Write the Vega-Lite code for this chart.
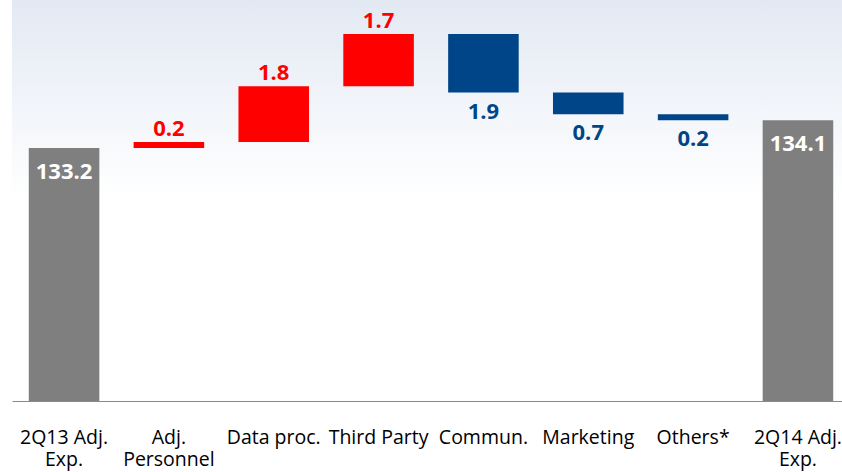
{
  "$schema": "https://vega.github.io/schema/vega-lite/v6.json",
  "width": 830,
  "height": 401,
  "autosize": {"type": "none"},
  "padding": {"left": 12, "top": 0, "right": 0, "bottom": 71},
  "background": "white",
  "view": {
    "stroke": null,
    "fill": {
      "gradient": "linear",
      "x1": 0, "y1": 0, "x2": 0, "y2": 1,
      "stops": [
        {"offset": 0, "color": "#e3e9f3"},
        {"offset": 0.2, "color": "#eef2f8"},
        {"offset": 0.5, "color": "#ffffff"},
        {"offset": 1, "color": "#ffffff"}
      ]
    }
  },
  "data": {
    "values": [
      {"label": "2Q13 Adj.|Exp.", "start": 125, "end": 133.2, "text": "133.2", "kind": "total"},
      {"label": "Adj.|Personnel", "start": 133.2, "end": 133.4, "text": "0.2", "kind": "increase"},
      {"label": "Data proc.", "start": 133.4, "end": 135.2, "text": "1.8", "kind": "increase"},
      {"label": "Third Party", "start": 135.2, "end": 136.9, "text": "1.7", "kind": "increase"},
      {"label": "Commun.", "start": 136.9, "end": 135.0, "text": "1.9", "kind": "decrease"},
      {"label": "Marketing", "start": 135.0, "end": 134.3, "text": "0.7", "kind": "decrease"},
      {"label": "Others*", "start": 134.3, "end": 134.1, "text": "0.2", "kind": "decrease"},
      {"label": "2Q14 Adj.|Exp.", "start": 125, "end": 134.1, "text": "134.1", "kind": "total"}
    ]
  },
  "encoding": {
    "x": {
      "field": "label",
      "type": "nominal",
      "sort": null,
      "scale": {"range": [0, 838], "paddingInner": 0.327, "paddingOuter": 0.16},
      "axis": {
        "title": null,
        "ticks": false,
        "grid": false,
        "labelAngle": 0,
        "labelExpr": "split(datum.value, '|')",
        "labelFont": "Open Sans",
        "labelFontSize": 19.5,
        "labelColor": "#000000",
        "labelPadding": 27,
        "labelLineHeight": 22,
        "labelLimit": 0,
        "domainColor": "#8a8a8a",
        "domainWidth": 1.2
      }
    }
  },
  "layer": [
    {
      "mark": {"type": "bar"},
      "encoding": {
        "y": {"field": "start", "type": "quantitative", "scale": {"domain": [125, 138], "nice": false, "zero": false}, "axis": null},
        "y2": {"field": "end"},
        "color": {
          "field": "kind",
          "type": "nominal",
          "scale": {"domain": ["total", "increase", "decrease"], "range": ["#7f7f7f", "#ff0000", "#004587"]},
          "legend": null
        }
      }
    },
    {
      "transform": [{"filter": "datum.kind == 'total'"}],
      "mark": {"type": "text", "font": "Open Sans", "fontWeight": "bold", "fontSize": 22, "baseline": "alphabetic", "dy": 31, "color": "#ffffff"},
      "encoding": {
        "y": {"field": "end", "type": "quantitative"},
        "text": {"field": "text"}
      }
    },
    {
      "transform": [{"filter": "datum.kind == 'increase'"}],
      "mark": {"type": "text", "font": "Open Sans", "fontWeight": "bold", "fontSize": 22, "baseline": "alphabetic", "dy": -6, "color": "#ff0000"},
      "encoding": {
        "y": {"field": "end", "type": "quantitative"},
        "text": {"field": "text"}
      }
    },
    {
      "transform": [{"filter": "datum.kind == 'decrease'"}],
      "mark": {"type": "text", "font": "Open Sans", "fontWeight": "bold", "fontSize": 22, "baseline": "alphabetic", "dy": 26, "color": "#004587"},
      "encoding": {
        "y": {"field": "end", "type": "quantitative"},
        "text": {"field": "text"}
      }
    }
  ]
}
